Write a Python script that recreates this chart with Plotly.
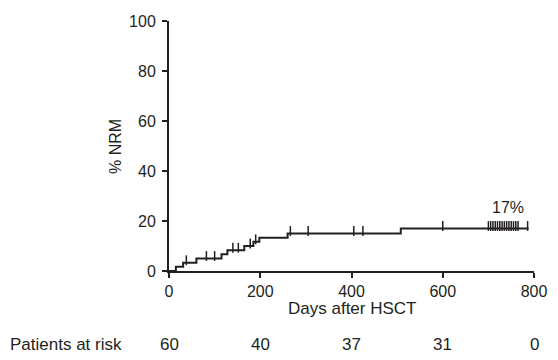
import plotly.graph_objects as go
import numpy as np

# Step curve: day of change and cumulative NRM (%) after that day
step_days = [0, 15, 31, 60, 115, 128, 165, 185, 198, 260, 508, 788]
step_nrm = [0, 1.7, 3.3, 5.0, 6.7, 8.3, 10.0, 11.7, 13.3, 15.0, 17.0, 17.0]

# Censored observations (days)
censor_days = [38, 82, 100, 140, 152, 178, 190, 266, 305, 405, 425, 600,
               700, 705, 710, 715, 720, 725, 730, 735, 740, 745, 750, 755,
               760, 765, 786]

risk_days = [0, 200, 400, 600, 800]
risk_counts = ["60", "40", "37", "31", "0"]

x_ticks = [0, 200, 400, 600, 800]
y_ticks = [0, 20, 40, 60, 80, 100]

def level_at(d):
    idx = np.searchsorted(step_days, d, side="right") - 1
    return step_nrm[max(idx, 0)]

censor_y = [level_at(d) + 1.0 for d in censor_days]

FONT = "Liberation Sans, Arial, sans-serif"
INK = "#231f20"

fig = go.Figure()
fig.add_trace(go.Scatter(x=step_days, y=step_nrm, mode="lines",
                         line=dict(shape="hv", color=INK, width=2),
                         hoverinfo="skip", showlegend=False))
fig.add_trace(go.Scatter(x=censor_days, y=censor_y, mode="markers",
                         marker=dict(symbol="line-ns-open", size=7, color=INK,
                                     line=dict(color=INK, width=1.5)),
                         hoverinfo="skip", showlegend=False))

fig.add_annotation(x=742, y=25.5, xref="x", yref="y", text="17%",
                   showarrow=False, xanchor="center", yanchor="middle",
                   font=dict(family=FONT, size=16, color=INK))

# Patients at risk row
fig.add_annotation(x=-0.44, y=-0.2935, xref="paper", yref="paper",
                   text="Patients at risk", showarrow=False,
                   xanchor="left", yanchor="middle",
                   font=dict(family=FONT, size=17, color=INK))
for d, c in zip(risk_days, risk_counts):
    fig.add_annotation(x=d, y=-0.2935, xref="x", yref="paper", text=c,
                       showarrow=False, xanchor="center", yanchor="middle",
                       font=dict(family=FONT, size=17, color=INK))

# Axis titles
fig.add_annotation(x=-0.148, y=0.5, xref="paper", yref="paper", text="% NRM",
                   textangle=-90, showarrow=False,
                   xanchor="center", yanchor="middle",
                   font=dict(family=FONT, size=16, color=INK))
fig.add_annotation(x=0.5, y=-0.15, xref="paper", yref="paper",
                   text="Days after HSCT", showarrow=False,
                   xanchor="center", yanchor="middle",
                   font=dict(family=FONT, size=17, color=INK))

fig.update_layout(
    width=542, height=352,
    margin=dict(l=161, r=16, t=13, b=89),
    paper_bgcolor="white", plot_bgcolor="white",
    font=dict(family=FONT, size=16, color=INK),
    xaxis=dict(range=[0, 800], tickvals=x_ticks, showgrid=False, zeroline=False,
               automargin=False,
               showline=True, linecolor=INK, linewidth=2,
               ticks="outside", ticklen=5, tickwidth=2, tickcolor=INK,
               tickfont=dict(family=FONT, size=16, color=INK)),
    yaxis=dict(range=[0, 100], tickvals=y_ticks, showgrid=False, zeroline=False,
               automargin=False,
               showline=True, linecolor=INK, linewidth=2,
               ticks="outside", ticklen=5, tickwidth=2, tickcolor=INK,
               ticklabelstandoff=3,
               tickfont=dict(family=FONT, size=16, color=INK)),
)

fig.write_html("out.html")
